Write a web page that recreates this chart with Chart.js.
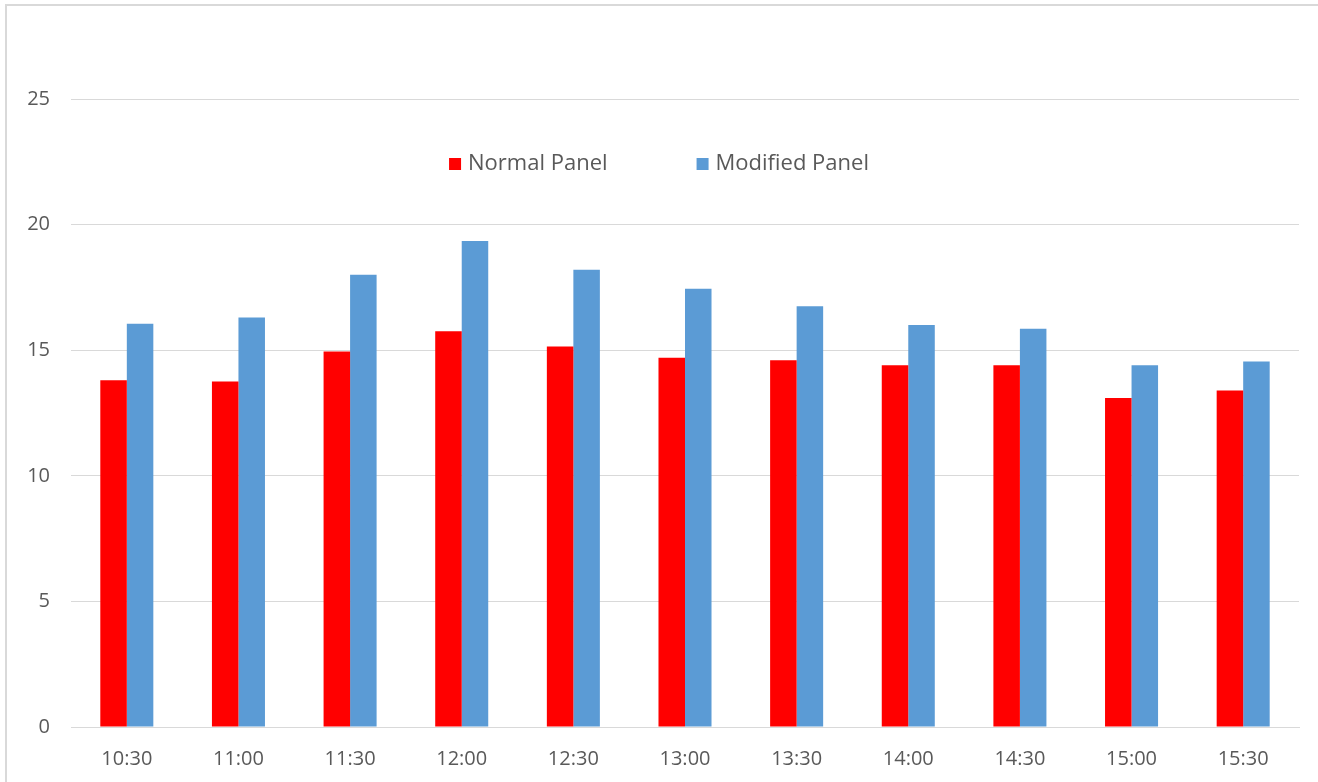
<!DOCTYPE html>
<html>
<head>
<meta charset="utf-8">
<script src="https://cdn.jsdelivr.net/npm/chart.js@4"></script>
<style>
  html, body { margin: 0; padding: 0; background: #fff; }
  #wrap { position: relative; width: 1318px; height: 782px; overflow: hidden; }
  #frame { position: absolute; left: 5px; top: 4px; width: 1400px; height: 900px; border: 2px solid #d9d9d9; }
  #myChart { position: absolute; left: 0; top: 0; }
</style>
</head>
<body>
<div id="wrap">
  <div id="frame"></div>
  <canvas id="myChart" width="1318" height="782"></canvas>
</div>
<script>
const times = ['10:30', '11:00', '11:30', '12:00', '12:30', '13:00', '13:30', '14:00', '14:30', '15:00', '15:30']
const normalPanel = [13.8, 13.75, 14.95, 15.75, 15.15, 14.7, 14.6, 14.4, 14.4, 13.1, 13.4]
const modifiedPanel = [16.05, 16.3, 18.0, 19.35, 18.2, 17.45, 16.75, 16.0, 15.85, 14.4, 14.55]
const yTicks = [0, 5, 10, 15, 20, 25]

const gray = '#d9d9d9'
const textColor = '#595959'

// legend sits inside the plot, like the excel one
const insideLegend = {
  id: 'insideLegend',
  afterDraw(chart) {
    const c = chart.ctx
    c.save()
    c.font = '22px "Open Sans"'
    c.textBaseline = 'middle'
    const box = 12, gap = 7, space = 89
    const items = chart.data.datasets.map(d => ({ text: d.label, color: d.backgroundColor, w: c.measureText(d.label).width }))
    let total = 0
    items.forEach((it, i) => { total += box + gap + it.w + (i ? space : 0) })
    let x = chart.width / 2 - total / 2
    const y = 164
    items.forEach(it => {
      c.fillStyle = it.color
      c.fillRect(x, y - box / 2, box, box)
      c.fillStyle = textColor
      c.fillText(it.text, x + box + gap, y)
      x += box + gap + it.w + space
    })
    c.restore()
  }
}

const ctx = document.getElementById('myChart')
new Chart(ctx, {
  type: 'bar',
  data: {
    labels: times,
    datasets: [{
      label: 'Normal Panel',
      backgroundColor: '#ff0000',
      data: normalPanel
    }, {
      label: 'Modified Panel',
      backgroundColor: '#5b9bd5',
      data: modifiedPanel
    }]
  },
  options: {
    responsive: false,
    animation: false,
    layout: { padding: { left: 6, right: 19, top: 99, bottom: 0 } },
    datasets: {
      bar: { categoryPercentage: 0.475, barPercentage: 1.0 }
    },
    plugins: {
      legend: { display: false },
      tooltip: { enabled: false }
    },
    scales: {
      x: {
        grid: { display: false },
        border: { display: true, color: gray, width: 1 },
        ticks: { color: textColor, font: { family: 'Open Sans', size: 20 }, padding: 12 },
        afterFit: s => { s.height = 55 }
      },
      y: {
        min: 0,
        max: 25,
        afterBuildTicks: s => { s.ticks = yTicks.map(v => ({ value: v })) },
        grid: { color: gray, lineWidth: 1, drawTicks: false },
        border: { display: false },
        ticks: { color: textColor, font: { family: 'Open Sans', size: 20 }, padding: 21 },
        afterFit: s => { s.width = 65 }
      }
    }
  },
  plugins: [insideLegend]
})
</script>
</body>
</html>
